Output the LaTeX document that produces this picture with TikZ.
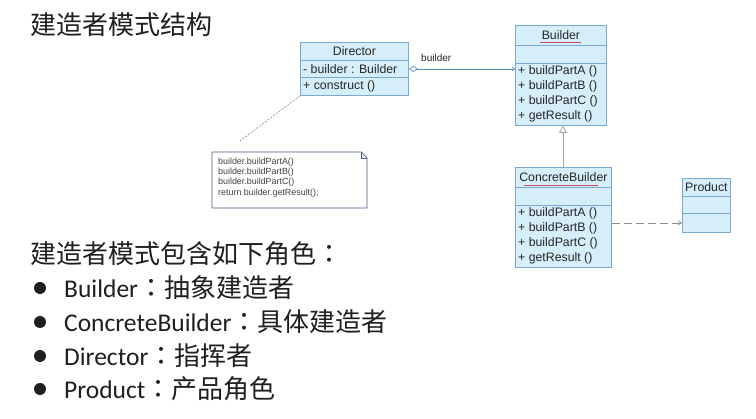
\documentclass[tikz,border=0pt]{standalone}
\usepackage{fontspec}
\setmainfont{Liberation Sans}
\newfontfamily\cjk{Noto Sans CJK SC}
\newfontfamily\cjktc{Noto Sans CJK TC}
\newfontfamily\latn{Carlito}
\usetikzlibrary{arrows.meta}
\definecolor{boxfill}{HTML}{D6EEF9}
\definecolor{boxline}{HTML}{7AAAD2}
\definecolor{assoc}{HTML}{5A8FC0}
\definecolor{redline}{HTML}{D04858}
\definecolor{notetext}{HTML}{404040}
\definecolor{noteline}{HTML}{4A5A8A}
\newcommand{\lt}[1]{{\latn\fontsize{25.5}{30}\selectfont #1}}
\newcommand{\cc}{{\cjktc ：}}
\tikzset{
  comp/.style={draw=boxline, fill=boxfill, line width=0.8pt, anchor=north west, inner sep=0pt,
    font=\fontsize{12.3}{14}\selectfont, text=black!85},
  txt/.style={anchor=west, inner sep=0pt, font=\fontsize{12.3}{14}\selectfont, text=black!85},
  notetxt/.style={anchor=west, inner sep=0pt, font=\fontsize{8.9}{10}\selectfont, text=notetext},
  big/.style={anchor=west, inner sep=0pt, font=\cjk\fontsize{26}{30}\selectfont, text=black!88},
  bullet/.style={circle, fill=black!88, inner sep=0pt, minimum size=12pt},
  under/.style={draw=redline, line width=1pt}
}
\begin{document}
\begin{tikzpicture}[x=1pt,y=-1pt]
\fill[white] (0,0) rectangle (756,419);
\useasboundingbox (0,0) rectangle (756,419);

% Title
\node[big] (title) at (30,25) {建造者模式结构};

% Director
\node[comp, minimum width=108pt, minimum height=18pt] (dirH) at (300,42) {Director};
\node[comp, minimum width=108pt, minimum height=17pt] (dirA) at (300,60) {};
\node[comp, minimum width=108pt, minimum height=18pt] (dirO) at (300,77) {};
\node[txt] (dirAt) at (303,69) {- builder : Builder};
\node[txt] (dirOt) at (303,86.5) {+ construct ()};

% Builder
\node[comp, minimum width=91pt, minimum height=20pt] (bH) at (515,25) {Builder};
\node[comp, minimum width=91pt, minimum height=18pt] (bA) at (515,45) {};
\node[comp, minimum width=91pt, minimum height=62pt] (bO) at (515,63) {};
\draw[under] (540,42.5) -- (581,42.5);
\foreach \t [count=\i] in {+ buildPartA (), + buildPartB (), + buildPartC (), + getResult ()}
  \node[txt] (bo\i) at (518,71+15.1*\i-15.1) {\t};

% ConcreteBuilder
\node[comp, minimum width=96pt, minimum height=20pt] (cH) at (515,167) {ConcreteBuilder};
\node[comp, minimum width=96pt, minimum height=18pt] (cA) at (515,187) {};
\node[comp, minimum width=96pt, minimum height=62pt] (cO) at (515,205) {};
\draw[under] (524,185.5) -- (598,185.5);
\foreach \t [count=\i] in {+ buildPartA (), + buildPartB (), + buildPartC (), + getResult ()}
  \node[txt] (co\i) at (518,213+15.1*\i-15.1) {\t};

% Product
\node[comp, minimum width=48pt, minimum height=18pt] (pH) at (682,178) {Product};
\node[comp, minimum width=48pt, minimum height=17pt] (pA) at (682,196) {};
\node[comp, minimum width=48pt, minimum height=19pt] (pO) at (682,213) {};

% association Director -> Builder
\draw[assoc, line width=0.7pt, {Diamond[open, length=9pt, width=6pt]}-{To[length=3pt,width=4pt]}]
  (dirA.east) -- (bO.west |- dirA.east);
\node[txt, font=\fontsize{10}{12}\selectfont] (assocLbl) at (421,58) {builder};

% generalization ConcreteBuilder -> Builder
\draw[black!35, line width=0.8pt, -{Triangle[open, length=7pt, width=8pt]}] (cH.north -| 563,0) -- (bO.south -| 563,0);

% dependency ConcreteBuilder -> Product
\coordinate (depS) at (cO.north east);
\draw[black!45, line width=0.7pt, dash pattern=on 8pt off 4pt, -{To[length=4pt,width=5pt]}] (depS |- pO.west) -- (pO.west);

% Note
\node[inner sep=0pt, minimum width=155pt, minimum height=56pt, anchor=north west] (note) at (212,152) {};
\draw[noteline, fill=white, line width=0.7pt] (212,152) -- (361,152) -- (367,158) -- (367,208) -- (212,208) -- cycle;
\draw[noteline, line width=0.6pt] (361,152) -- (361,158) -- (367,158);
\foreach \t [count=\i] in {builder.buildPartA(), builder.buildPartB(), builder.buildPartC(), return builder.getResult();}
  \node[notetxt] (nt\i) at (218,162+10.3*\i-10.3) {\t};
\coordinate (noteTip) at (240,141);
\draw[black!45, line width=0.6pt, dash pattern=on 2pt off 1.5pt] (dirO.south west) -- (noteTip);

% Roles
\node[big] (roles) at (30,254) {建造者模式包含如下角色\cc};
\node[bullet] (b1) at (40,288) {};
\node[big] (r1) at (64,288) {\lt{Builder}\cc 抽象建造者};
\node[bullet] (b2) at (40,322) {};
\node[big] (r2) at (64,322) {\lt{ConcreteBuilder}\cc 具体建造者};
\node[bullet] (b3) at (40,356) {};
\node[big] (r3) at (64,356) {\lt{Director}\cc 指挥者};
\node[bullet] (b4) at (40,389) {};
\node[big] (r4) at (64,389) {\lt{Product}\cc 产品角色};
\end{tikzpicture}
\end{document}
